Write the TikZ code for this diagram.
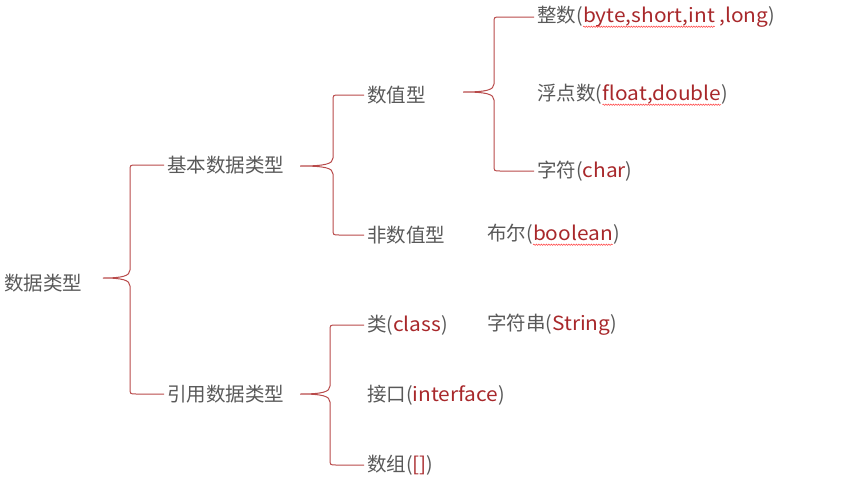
\documentclass[tikz,border=0pt]{standalone}
\usepackage{fontspec}
\setmainfont{Noto Sans CJK SC}
\newfontfamily\latinfont{Noto Sans CJK SC}[FakeStretch=1.07]
\usetikzlibrary{calc,decorations.pathmorphing}
\definecolor{textgray}{HTML}{595959}
\definecolor{wordred}{HTML}{A8282B}
\definecolor{bracered}{HTML}{B84A4A}
\newcommand\kw[1]{\textcolor{wordred}{\latinfont #1}}
% red word with a wavy underline
\newcommand\kwu[1]{\tikz[baseline=(w.base)]{%
  \node[inner sep=0pt, outer sep=0pt, anchor=base, text=wordred, font=\latinfont] (w) {#1};
  \draw[wavy] ([yshift=-4pt]w.base west) -- ([yshift=-4pt]w.base east);}}
\tikzset{
  item/.style={anchor=west, inner sep=0pt, text=textgray, font=\fontsize{19.5}{23}\selectfont},
  brace/.style={draw=bracered, line width=1pt},
  wavy/.style={draw=red!75, line width=0.5pt, decorate,
    decoration={snake, amplitude=0.7pt, segment length=2.5pt}},
}
% brace from a tip to an upper and a lower child
\newcommand\branch[4]{%
  \draw[brace] let \p0=(#1), \p1=(#2.west), \p2=(#3.west) in
    ({\x1-3pt},\y1) -- ({\x0+#4+6pt},\y1)
    .. controls ({\x0+#4},\y1) .. ({\x0+#4},\y1-6pt)
    -- ({\x0+#4},\y0+8pt)
    .. controls ({\x0+#4},\y0+2pt) and ({\x0+#4-8pt},\y0) .. (\p0)
    .. controls ({\x0+#4-8pt},\y0) and ({\x0+#4},\y0-2pt) .. ({\x0+#4},\y0-8pt)
    -- ({\x0+#4},\y2+6pt)
    .. controls ({\x0+#4},\y2) .. ({\x0+#4+6pt},\y2) -- ({\x2-3pt},\y2);}

\begin{document}
\begin{tikzpicture}[x=1pt,y=-1pt]
  \useasboundingbox (0,0) rectangle (857,485);

  % Root
  \node[item] (root) at (4,283) {数据类型};
  \coordinate (roottip) at (103,278);

  % Primitive types
  \node[item] (basic)  at (167,165) {基本数据类型};
  \coordinate (basictip) at (300,166);
  \node[item] (num)    at (367,95)  {数值型};
  \node[item] (nonnum) at (367,235) {非数值型};
  \node[item] (bool)   at (487,235) {布尔(\kwu{boolean})};
  \coordinate (numtip) at (463,92);
  \node[item] (int)    at (537,17)  {整数(\kwu{byte,short,int}\ \kw{,long})};
  \node[item] (float)  at (537,95)  {浮点数(\kwu{float,double})};
  \node[item] (char)   at (537,171) {字符(\kw{char})};

  % Reference types
  \node[item] (ref)    at (167,394) {引用数据类型};
  \coordinate (reftip) at (300,394);
  \node[item] (class)  at (367,325) {类(\kw{class})};
  \node[item] (string) at (487,325) {字符串(\kw{String})};
  \node[item] (iface)  at (367,395) {接口(\kw{interface})};
  \node[item] (arr)    at (367,465) {数组(\kw{[]})};

  % Braces
  \branch{roottip}{basic}{ref}{27pt}
  \branch{basictip}{num}{nonnum}{33pt}
  \branch{numtip}{int}{char}{31pt}
  \branch{reftip}{class}{arr}{30pt}
\end{tikzpicture}
\end{document}
